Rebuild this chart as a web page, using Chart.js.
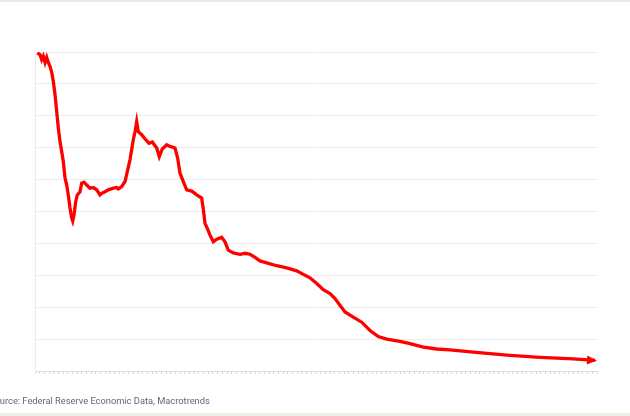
<!DOCTYPE html>
<html lang="en">
<head>
    <meta charset="UTF-8">
    <title>Long decline chart</title>
    <style>
        html, body {
            margin: 0;
            padding: 0;
            background: #fff;
            overflow: hidden;
        }
        .frame {
            position: relative;
            width: 630px;
            height: 416px;
        }
        .top-bar {
            position: absolute;
            left: 0;
            right: 0;
            top: 0;
            height: 2px;
            background: #e9e9dd;
        }
        .bottom-bar {
            position: absolute;
            left: 0;
            right: 0;
            bottom: 0;
            height: 3px;
            background: #efeee4;
        }
        .source {
            position: absolute;
            left: -11px;
            top: 395px;
            font-family: Roboto, "DejaVu Sans", sans-serif;
            font-size: 9.3px;
            color: #666;
            white-space: nowrap;
        }
        #chart {
            position: absolute;
            left: 0;
            top: 0;
        }
    </style>
    <script src="https://cdn.jsdelivr.net/npm/chart.js"></script>
</head>
<body>
    <div class="frame">
        <canvas id="chart" width="630" height="416"></canvas>
        <div class="top-bar"></div>
        <div class="source">Source: Federal Reserve Economic Data, Macrotrends</div>
        <div class="bottom-bar"></div>
    </div>

    <script>
        // x positions (time units along the axis) and values
        const xValues = [
            0.49, 1.07, 1.43, 1.77, 2.14, 2.50, 2.84, 3.20, 3.57, 3.91,
            4.27, 4.63, 4.97, 5.34, 5.70, 6.04, 6.41, 6.77, 7.11, 7.47,
            7.84, 8.05, 8.33, 8.69, 9.03, 9.61, 9.97, 10.46, 11.04, 11.74,
            12.45, 13.17, 13.88, 14.24, 14.95, 15.65, 16.72, 17.44, 17.79, 18.51,
            19.22, 19.71, 20.28, 20.99, 21.35, 21.71, 22.06, 22.78, 23.64, 24.34,
            25.05, 25.99, 26.54, 27.18, 28.12, 28.83, 29.89, 30.47, 30.96, 31.67,
            32.39, 33.46, 34.53, 35.59, 35.94, 36.30, 36.79, 37.37, 38.07, 38.80,
            39.86, 40.57, 41.27, 42.34, 43.77, 44.84, 45.91, 46.98, 48.04, 49.47,
            51.61, 53.74, 55.88, 57.29, 58.72, 60.15, 61.56, 62.99, 64.06, 65.12,
            66.19, 67.96, 69.76, 71.53, 73.30, 75.10, 77.94, 80.07, 82.91, 85.77,
            88.61, 93.59, 100.72, 107.83, 114.94, 119.57
        ];
        const seriesValues = [
            9.97, 9.92, 9.76, 9.87, 9.67, 9.83, 9.67, 9.55, 9.36, 9.08,
            8.67, 8.14, 7.63, 7.19, 6.88, 6.57, 6.05, 5.83, 5.52, 5.11,
            4.79, 4.70, 4.89, 5.31, 5.52, 5.62, 5.89, 5.92, 5.83, 5.73,
            5.75, 5.68, 5.52, 5.57, 5.62, 5.68, 5.73, 5.75, 5.71, 5.78,
            5.94, 6.25, 6.62, 7.25, 7.50, 7.82, 7.50, 7.41, 7.25, 7.14,
            7.18, 6.99, 6.72, 6.96, 7.09, 7.04, 6.99, 6.67, 6.20, 5.94,
            5.68, 5.64, 5.52, 5.42, 5.06, 4.63, 4.47, 4.26, 4.05, 4.13,
            4.19, 4.05, 3.79, 3.70, 3.66, 3.69, 3.66, 3.56, 3.45, 3.39,
            3.30, 3.23, 3.14, 3.03, 2.92, 2.74, 2.55, 2.43, 2.27, 2.06,
            1.85, 1.69, 1.53, 1.27, 1.08, 1.00, 0.93, 0.86, 0.75, 0.69,
            0.66, 0.59, 0.50, 0.43, 0.38, 0.33
        ];
        const xMin = 0, xMax = 120;
        const yMin = 0, yMax = 10;

        const points = xValues.map((x, i) => ({ x: x, y: seriesValues[i] }));

        // arrowhead at the end of the line, positioned through the scales
        const arrowPlugin = {
            id: 'arrowHead',
            afterDatasetsDraw(chart) {
                const meta = chart.getDatasetMeta(0);
                const n = meta.data.length;
                const end = meta.data[n - 1];
                const prev = meta.data[n - 3];
                const angle = Math.atan2(end.y - prev.y, end.x - prev.x);
                const ctx = chart.ctx;
                ctx.save();
                ctx.translate(end.x + 2, end.y);
                ctx.rotate(angle);
                ctx.fillStyle = '#ff0000';
                ctx.beginPath();
                ctx.moveTo(0, 0);
                ctx.lineTo(-10, -4.5);
                ctx.lineTo(-10, 4.5);
                ctx.closePath();
                ctx.fill();
                ctx.restore();
            }
        };

        new Chart(document.getElementById('chart'), {
            type: 'line',
            data: {
                datasets: [{
                    data: points,
                    borderColor: '#ff0000',
                    borderWidth: 3.3,
                    pointRadius: 0,
                    tension: 0,
                    fill: false
                }]
            },
            options: {
                responsive: false,
                animation: false,
                layout: {
                    padding: { left: 35, right: 33, top: 52, bottom: 42 }
                },
                plugins: {
                    legend: { display: false },
                    tooltip: { enabled: false }
                },
                scales: {
                    x: {
                        type: 'linear',
                        min: xMin,
                        max: xMax,
                        ticks: { display: false, stepSize: 1, maxTicksLimit: 200 },
                        grid: {
                            drawOnChartArea: false,
                            drawTicks: true,
                            tickLength: 3,
                            color: '#d6d6d6'
                        },
                        border: { color: '#dcdcdc', width: 1 }
                    },
                    y: {
                        min: yMin,
                        max: yMax,
                        ticks: { display: false, stepSize: 1 },
                        grid: {
                            color: '#ececec',
                            drawTicks: false
                        },
                        border: { color: '#ececec', width: 1 }
                    }
                }
            },
            plugins: [arrowPlugin]
        });
    </script>
</body>
</html>
